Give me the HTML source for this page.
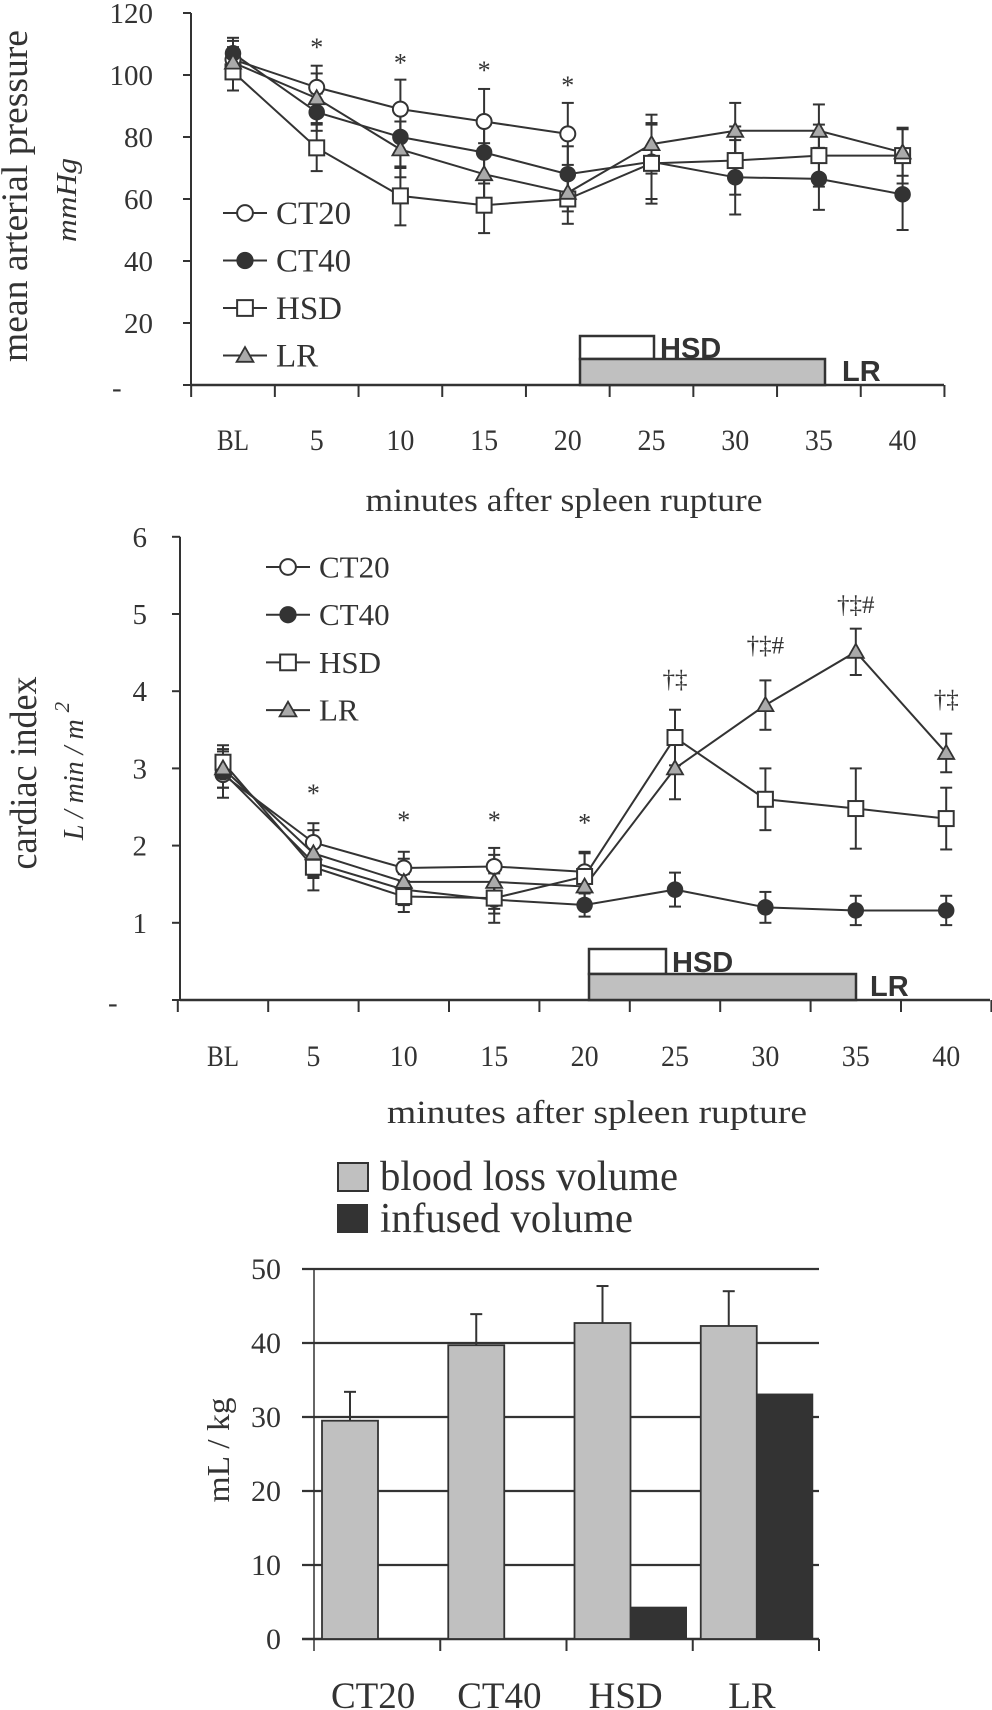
<!DOCTYPE html>
<html><head><meta charset="utf-8"><style>
html,body{margin:0;padding:0;background:#fff}
svg{display:block}
text{font-family:"Liberation Serif",serif;fill:#333}
.b{font-family:"Liberation Sans",sans-serif;font-weight:bold}
</style></head><body>
<svg id="fig" width="992" height="1710" viewBox="0 0 992 1710" xmlns="http://www.w3.org/2000/svg">
<g id="c1"></g>
<g id="c2"></g>
<g id="c3"></g>
</svg>
<script>
const timeLabels=["BL","5","10","15","20","25","30","35","40"];
const mapCT20=[105,96,89,85,81];
const mapCT20sd=[6,7,9.5,10.5,10];
const mapCT40=[107,88,80,75,68,72,67,66.5,61.5];
const mapCT40sd=[5,6,10,10,9,12,12,10,11.5];
const mapHSD=[101,76.5,61,58,60,71.5,72.4,74,74];
const mapHSDsd=[6,7.5,9.5,9,8,13,11,10,9];
const mapLR=[104,92.5,76,68,62,77.7,82,82,75];
const mapLRsd=[5,8,9,10,6,9.5,9,8.5,7.5];
const mapTicks=[0,20,40,60,80,100,120];
const mapTickLabels=["-","20","40","60","80","100","120"];
const mapAnnotIdx=[1,2,3,4];
const mapAnnotVal=[110,105,102.6,97.7];
const mapAnnotText=["*","*","*","*"];

const ciCT20=[2.92,2.04,1.71,1.73,1.66];
const ciCT20sd=[0.3,0.25,0.21,0.24,0.26];
const ciCT40=[2.95,1.78,1.43,1.3,1.23,1.43,1.2,1.16,1.16];
const ciCT40sd=[0.2,0.2,0.2,0.18,0.15,0.22,0.2,0.19,0.19];
const ciHSD=[3.08,1.72,1.34,1.32,1.6,3.4,2.6,2.48,2.35];
const ciHSDsd=[0.22,0.3,0.2,0.32,0.3,0.36,0.4,0.52,0.4];
const ciLR=[3.0,1.9,1.53,1.53,1.47,3.0,3.82,4.51,3.2];
const ciLRsd=[0.25,0.3,0.3,0.35,0.25,0.4,0.32,0.3,0.25];
const ciTicks=[0,1,2,3,4,5,6];
const ciTickLabels=["-","1","2","3","4","5","6"];
const ciAnnotIdx=[1,2,3,4,5,6,7,8];
const ciAnnotVal=[2.72,2.37,2.37,2.34,4.18,4.62,5.14,3.92];
const ciAnnotText=["*","*","*","*","†‡","†‡#","†‡#","†‡"];

const groups=["CT20","CT40","HSD","LR"];
const bloodLoss=[29.5,39.7,42.7,42.3];
const bloodLossErr=[3.9,4.2,5.0,4.7];
const infused=[0,0,4.3,33.1];
const volTicks=[0,10,20,30,40,50];

const NS="http://www.w3.org/2000/svg";
function mk(parent,tag,attrs,txt){const e=document.createElementNS(NS,tag);for(const k in attrs)e.setAttribute(k,attrs[k]);if(txt!==undefined)e.textContent=txt;parent.appendChild(e);return e;}
const INK="#333";
function marker(g,type,x,y,s){
  let e;
  if(type==="o"){e=mk(g,"circle",{cx:x,cy:y,r:7.5*s,fill:"#fff",stroke:INK,"stroke-width":2});}
  else if(type==="c"){e=mk(g,"circle",{cx:x,cy:y,r:7.5*s,fill:INK,stroke:INK,"stroke-width":1.5});}
  else if(type==="s"){const h=7.5*s;e=mk(g,"rect",{x:x-h,y:y-h,width:2*h,height:2*h,fill:"#fff",stroke:INK,"stroke-width":2});}
  else {const h=8*s;e=mk(g,"polygon",{points:`${x},${y-h} ${x+h},${y+h*0.75} ${x-h},${y+h*0.75}`,fill:"#aaa",stroke:INK,"stroke-width":1.8});}
  return e;
}

function lineChart(g,cfg){
  const X=i=>cfg.x0+cfg.dx*i, Y=v=>cfg.y0-v*cfg.ky;
  let e=mk(g,"line",{x1:cfg.ax,y1:Y(cfg.ticks[cfg.ticks.length-1]),x2:cfg.ax,y2:cfg.y0,stroke:INK,"stroke-width":2});
  
  
  e=mk(g,"line",{x1:cfg.ax,y1:cfg.y0,x2:cfg.axEnd,y2:cfg.y0,stroke:INK,"stroke-width":2.5});
  
  
  cfg.ticks.forEach((t,i)=>{
    mk(g,"line",{x1:cfg.ax-8,y1:Y(t),x2:cfg.ax,y2:Y(t),stroke:INK,"stroke-width":2});
    const tx=mk(g,"text",{x:i===0?cfg.dashX:cfg.labR,y:Y(t)+10+(i===0?2:0),"text-anchor":i===0?"start":"end","font-size":29},cfg.tickLabels[i]);
    
    
  });
  for(let i=0;i<=timeLabels.length;i++){
    const x=cfg.x0-cfg.dx/2+cfg.dx*i;
    mk(g,"line",{x1:x,y1:cfg.y0,x2:x,y2:cfg.y0+12,stroke:INK,"stroke-width":2});
  }
  timeLabels.forEach((l,i)=>{
    const tx=mk(g,"text",{x:X(i),y:cfg.labY,"text-anchor":"middle","font-size":30,"textLength":l.length>1?(l==="BL"?32:28):14,"lengthAdjust":"spacingAndGlyphs"},l);
    
    
  });
  const hb=mk(g,"rect",{x:cfg.hsd[0],y:cfg.hsd[1],width:cfg.hsd[2]-cfg.hsd[0],height:cfg.hsd[3]-cfg.hsd[1],fill:"#fff",stroke:INK,"stroke-width":2.5});
  
  
  const lb=mk(g,"rect",{x:cfg.lr[0],y:cfg.lr[1],width:cfg.lr[2]-cfg.lr[0],height:cfg.lr[3]-cfg.lr[1],fill:"#c0c0c0",stroke:INK,"stroke-width":2.5});
  
  
  let t=mk(g,"text",{x:cfg.hsdT[0],y:cfg.hsdT[1],"font-size":29,class:"b"},"HSD");
  
  
  t=mk(g,"text",{x:cfg.lrT[0],y:cfg.lrT[1],"font-size":29,class:"b"},"LR");
  
  
  cfg.series.forEach(s=>{
    const sg=mk(g,"g",{});
    
    
    const pts=s.v.map((v,i)=>X(i)+","+Y(v)).join(" ");
    mk(sg,"polyline",{points:pts,fill:"none",stroke:INK,"stroke-width":2});
    s.v.forEach((v,i)=>{
      const x=X(i),sd=s.sd[i];
      mk(sg,"line",{x1:x,y1:Y(v+sd),x2:x,y2:Y(v-sd),stroke:INK,"stroke-width":2});
      mk(sg,"line",{x1:x-6,y1:Y(v+sd),x2:x+6,y2:Y(v+sd),stroke:INK,"stroke-width":2});
      mk(sg,"line",{x1:x-6,y1:Y(v-sd),x2:x+6,y2:Y(v-sd),stroke:INK,"stroke-width":2});
    });
  });
  cfg.series.forEach(s=>{
    s.v.forEach((v,i)=>{
      const m=marker(g,s.m,X(i),Y(v),1);
      
      
    });
  });
  cfg.annIdx.forEach((idx,k)=>{
    const a=mk(g,"text",{x:X(idx),y:Y(cfg.annVal[k])+(cfg.annText[k]==="*"?12:10),"text-anchor":"middle","font-size":cfg.annText[k]==="*"?26:25},cfg.annText[k]);
    
    
  });
  cfg.series.forEach((s,k)=>{
    const ly=cfg.leg[1]+cfg.leg[2]*k;
    const lg=mk(g,"g",{});
    
    
    mk(lg,"line",{x1:cfg.leg[0],y1:ly,x2:cfg.leg[0]+cfg.leg[3],y2:ly,stroke:INK,"stroke-width":2});
    marker(lg,s.m,cfg.leg[0]+cfg.leg[3]/2,ly,1.05);
    mk(lg,"text",{x:cfg.leg[0]+cfg.leg[3]+9,y:ly+cfg.legFs*0.34,"font-size":cfg.legFs},s.name);
  });
  t=mk(g,"text",{x:cfg.xt[0],y:cfg.xt[1],"text-anchor":"middle","font-size":33,"textLength":cfg.xt[2],"lengthAdjust":"spacingAndGlyphs"},"minutes after spleen rupture");
  
  
}

const c1=document.getElementById("c1");
lineChart(c1,{x0:233,dx:83.7,y0:385,ky:3.1,ax:191,axEnd:944,labR:153,dashX:112,labY:450,ticks:mapTicks,tickLabels:mapTickLabels,
  hsd:[580,336,654,359],lr:[580,359,825,385],hsdT:[660,358],lrT:[842,381],
  series:[{name:"CT20",v:mapCT20,sd:mapCT20sd,m:"o"},{name:"CT40",v:mapCT40,sd:mapCT40sd,m:"c"},{name:"HSD",v:mapHSD,sd:mapHSDsd,m:"s"},{name:"LR",v:mapLR,sd:mapLRsd,m:"t"}],
  annIdx:mapAnnotIdx,annVal:mapAnnotVal,annText:mapAnnotText,
  leg:[223,213,47.5,44],legFs:33,xt:[564,511,397]});
let tt=mk(c1,"text",{transform:"translate(27,196) rotate(-90)","text-anchor":"middle","font-size":37,"textLength":332,"lengthAdjust":"spacingAndGlyphs"},"mean arterial pressure");


tt=mk(c1,"text",{transform:"translate(76,200) rotate(-90)","text-anchor":"middle","font-size":29,"font-style":"italic","textLength":84,"lengthAdjust":"spacingAndGlyphs"},"mmHg");



const c2=document.getElementById("c2");
lineChart(c2,{x0:223,dx:90.4,y0:1000,ky:77.2,ax:180,axEnd:990,labR:147,dashX:108,labY:1066,ticks:ciTicks,tickLabels:ciTickLabels,
  hsd:[589,949,666,974],lr:[589,974,856,1000],hsdT:[672,972],lrT:[870,996],
  series:[{name:"CT20",v:ciCT20,sd:ciCT20sd,m:"o"},{name:"CT40",v:ciCT40,sd:ciCT40sd,m:"c"},{name:"HSD",v:ciHSD,sd:ciHSDsd,m:"s"},{name:"LR",v:ciLR,sd:ciLRsd,m:"t"}],
  annIdx:ciAnnotIdx,annVal:ciAnnotVal,annText:ciAnnotText,
  leg:[266,567,47.7,44],legFs:31,xt:[597,1123,420]});
tt=mk(c2,"text",{transform:"translate(36,773) rotate(-90)","text-anchor":"middle","font-size":38,"textLength":193,"lengthAdjust":"spacingAndGlyphs"},"cardiac index");


tt=mk(c2,"text",{transform:"translate(83,771) rotate(-90)","text-anchor":"middle","font-size":28,"font-style":"italic"},"L / min / m ");


mk(tt,"tspan",{dy:-14,"font-size":21},"2");

const c3=document.getElementById("c3");
const bx0=314,bW=126.25,by0=1639,bk=7.4;
const BY=v=>by0-v*bk;
volTicks.forEach(v=>{
  const gl=mk(c3,"line",{x1:302,y1:BY(v),x2:819,y2:BY(v),stroke:INK,"stroke-width":v===0?2.5:2.2});
  
  
  const tx=mk(c3,"text",{x:281,y:BY(v)+10,"text-anchor":"end","font-size":30},String(v));
  
  
});
let ya=mk(c3,"line",{x1:bx0,y1:BY(50),x2:bx0,y2:by0+12,stroke:INK,"stroke-width":1.5});


for(let i=1;i<=groups.length;i++){mk(c3,"line",{x1:bx0+bW*i,y1:by0,x2:bx0+bW*i,y2:by0+12,stroke:INK,"stroke-width":2});}
groups.forEach((gname,i)=>{
  const gx=bx0+bW*i;
  const b=mk(c3,"rect",{x:gx+8,y:BY(bloodLoss[i]),width:56,height:bloodLoss[i]*bk,fill:"#c0c0c0",stroke:INK,"stroke-width":1.8});
  
  
  const ex=gx+36;
  mk(c3,"line",{x1:ex,y1:BY(bloodLoss[i]),x2:ex,y2:BY(bloodLoss[i]+bloodLossErr[i]),stroke:INK,"stroke-width":2});
  mk(c3,"line",{x1:ex-6,y1:BY(bloodLoss[i]+bloodLossErr[i]),x2:ex+6,y2:BY(bloodLoss[i]+bloodLossErr[i]),stroke:INK,"stroke-width":2});
  if(infused[i]>0){
    const d=mk(c3,"rect",{x:gx+64,y:BY(infused[i]),width:56,height:infused[i]*bk,fill:"#333",stroke:"#333","stroke-width":1});
    
    
  }
  const tx=mk(c3,"text",{x:gx+bW/2-4,y:1708,"text-anchor":"middle","font-size":37},gname);
  
  
});
tt=mk(c3,"text",{transform:"translate(229,1450) rotate(-90)","text-anchor":"middle","font-size":32,"textLength":105,"lengthAdjust":"spacingAndGlyphs"},"mL / kg");


let lg=mk(c3,"g",{});


mk(lg,"rect",{x:338,y:1163,width:30,height:28,fill:"#c0c0c0",stroke:INK,"stroke-width":2});
mk(lg,"text",{x:380,y:1190,"font-size":42,"textLength":298,"lengthAdjust":"spacingAndGlyphs"},"blood loss volume");
lg=mk(c3,"g",{});


mk(lg,"rect",{x:337,y:1204,width:31,height:29,fill:"#333"});
mk(lg,"text",{x:380,y:1232,"font-size":42,"textLength":253,"lengthAdjust":"spacingAndGlyphs"},"infused volume");
</script>
</body></html>
